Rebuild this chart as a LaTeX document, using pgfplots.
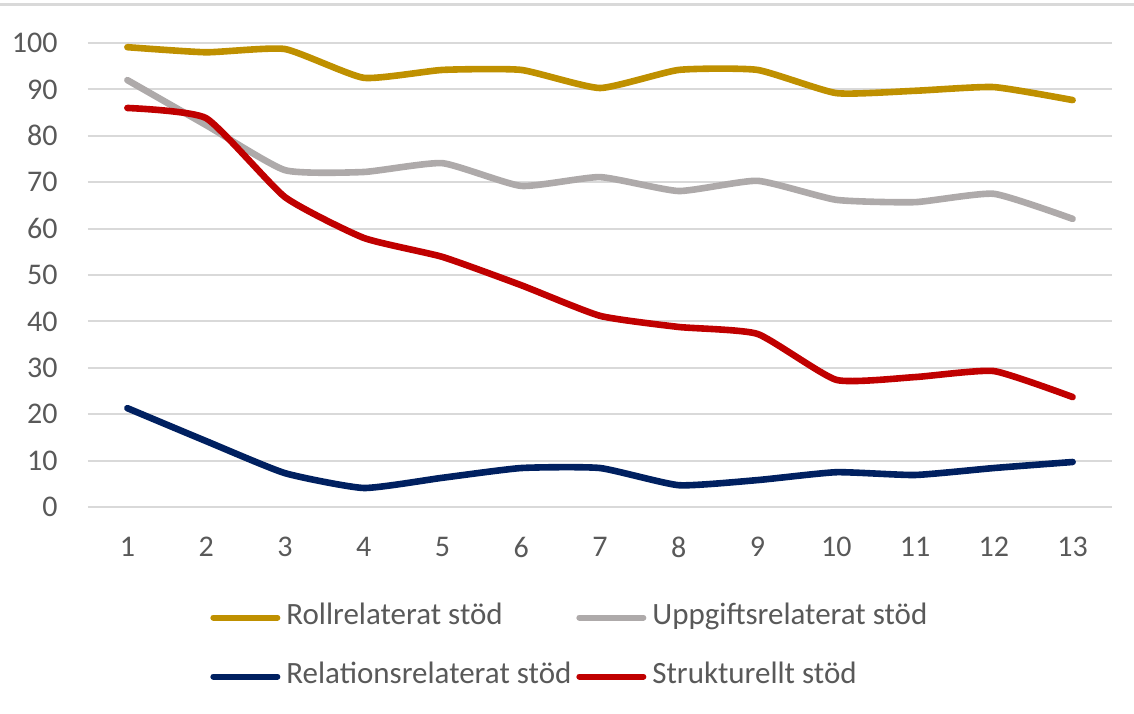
\documentclass[border=0pt]{standalone}
\usepackage{pgfplots}
\pgfplotsset{compat=1.18}
\usepackage{fontspec}
\setmainfont{Carlito}
\definecolor{cgold}{HTML}{BF9000}
\definecolor{cgray}{HTML}{AEAAAA}
\definecolor{cnavy}{HTML}{002060}
\definecolor{cred}{HTML}{C00000}
\definecolor{cgrid}{HTML}{D9D9D9}
\definecolor{ctext}{HTML}{595959}
\begin{document}
\begin{tikzpicture}
\useasboundingbox (-44pt,-103pt) rectangle (523pt,253.5pt);
\draw[cgrid, line width=1.5pt] (-44pt,251pt) -- (523pt,251pt);
\begin{axis}[
  at={(0pt,0pt)}, anchor=south west,
  scale only axis,
  width=512pt, height=232pt,
  xmin=0.5, xmax=13.5, ymin=0, ymax=100,
  xtick={1,...,13}, ytick={0,10,...,100},
  axis line style={draw=none},
  major tick length=0pt,
  ymajorgrids,
  major grid style={cgrid, line width=1pt},
  font=\fontsize{15}{18}\selectfont,
  /pgf/number format/assume math mode=true,
  tick label style={text=ctext},
  yticklabel style={anchor=east, inner sep=0pt, xshift=-15pt},
  xticklabel style={anchor=north, inner sep=0pt, yshift=-15pt},
  every axis plot/.append style={line width=3.3pt, line cap=round, line join=round, smooth, tension=0.3},
  legend columns=2,
  legend style={at={(0.1191,-0.205)}, anchor=north west, draw=none, fill=none,
    inner sep=0pt, column sep=0pt, row sep=14.5pt,
    nodes={inner sep=0pt, anchor=west, text=ctext, text height=11pt, text depth=4pt},
    font=\fontsize{15.5}{18}\selectfont},
  legend image code/.code={\draw[#1, line width=3pt, line cap=round] (1.5pt,0pt) -- (33.5pt,0pt);},
]
\addplot[cgold] coordinates {(1,99.1)(2,98.0)(3,98.7)(4,92.5)(5,94.2)(6,94.2)(7,90.3)(8,94.2)(9,94.2)(10,89.2)(11,89.7)(12,90.5)(13,87.7)};
\addlegendentry{\hspace*{3pt}\makebox[145pt][l]{Rollrelaterat stöd}}
\addplot[cgray] coordinates {(1,92.0)(2,82.3)(3,72.6)(4,72.2)(5,74.1)(6,69.2)(7,71.1)(8,68.1)(9,70.3)(10,66.2)(11,65.7)(12,67.5)(13,62.1)};
\addlegendentry{\hspace*{3pt}Uppgiftsrelaterat stöd}
\addplot[cnavy] coordinates {(1,21.3)(2,14.2)(3,7.3)(4,4.1)(5,6.3)(6,8.4)(7,8.4)(8,4.7)(9,5.8)(10,7.5)(11,6.9)(12,8.4)(13,9.7)};
\addlegendentry{\hspace*{3pt}\makebox[145pt][l]{Relationsrelaterat stöd}}
\addplot[cred] coordinates {(1,86.0)(2,83.8)(3,66.8)(4,58.0)(5,53.9)(6,47.8)(7,41.2)(8,38.8)(9,37.3)(10,27.4)(11,28.0)(12,29.3)(13,23.7)};
\addlegendentry{\hspace*{3pt}Strukturellt stöd}
\end{axis}
\end{tikzpicture}
\end{document}
